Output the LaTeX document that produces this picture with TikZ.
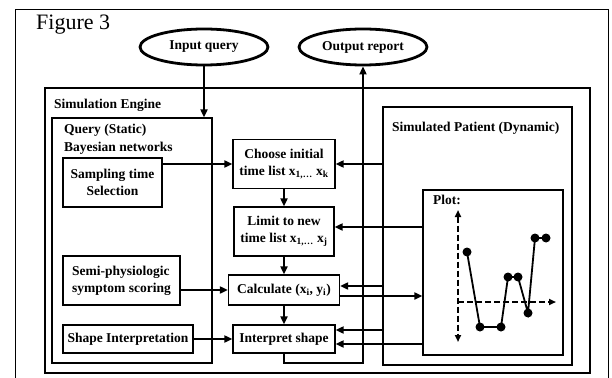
\documentclass[tikz,border=0pt]{standalone}
\usepackage{fontspec}
\setmainfont{Liberation Serif}
\usetikzlibrary{arrows.meta,shapes.geometric}

\begin{document}
\begin{tikzpicture}[x=1pt, y=-1pt,
    box/.style={draw, line width=1.2pt, align=center, inner sep=0pt, font=\bfseries\fontsize{13.5}{17}\selectfont},
    panel/.style={draw, line width=1.2pt, inner sep=0pt},
    oval/.style={ellipse, draw, line width=2.8pt, minimum width=128pt, minimum height=36pt, font=\bfseries\fontsize{13.5}{15}\selectfont},
    tag/.style={font=\bfseries\fontsize{13.5}{18}\selectfont, align=left, anchor=west, inner sep=0pt},
    arr/.style={-{Triangle[length=8pt,width=7pt]}, line width=1.8pt},
    axis/.style={dashed, dash pattern=on 6pt off 3pt, line width=1.8pt}]
    \useasboundingbox (0,0) rectangle (612,377);
    % Frames
    \node[panel, line width=1pt, minimum width=593, minimum height=372] (page) at (311.5,196) {};
    \node[panel, minimum width=545, minimum height=285] (engine) at (317.5,230.5) {};
    \node[panel, minimum width=160, minimum height=245] (query) at (132,240.5) {};
    \node[panel, minimum width=189, minimum height=258] (patient) at (477.5,236) {};
    \node[panel, minimum width=140, minimum height=165] (plot) at (493,272.5) {};
    % Labels
    \node[font=\fontsize{22}{26}\selectfont, anchor=west, inner sep=0pt] (title) at (36,25) {Figure 3};
    \node[tag] (enginelabel) at (54,105) {Simulation Engine};
    \node[tag] (querylabel) at (64,139) {Query (Static)\\Bayesian networks};
    \node[tag] (patientlabel) at (392,128) {Simulated Patient (Dynamic)};
    \node[tag] (plotlabel) at (433,200) {Plot:};
    % Nodes
    \node[oval] (input) at (204,47) {Input query};
    \node[oval] (output) at (363,47) {Output report};
    \node[box, minimum width=99, minimum height=49] (sampling) at (112.5,182.5) {Sampling time\\Selection};
    \node[box, align=left, minimum width=117, minimum height=49] (semi) at (121.5,280.5) {Semi-physiologic\\symptom scoring};
    \node[box, minimum width=130, minimum height=28] (shapeint) at (128,339) {Shape Interpretation};
    \node[box, minimum width=102, minimum height=49] (choose) at (284,164) {Choose initial\\time list x\textsubscript{1,\ldots} x\textsubscript{k}};
    \node[box, minimum width=100, minimum height=49] (limit) at (284,231.5) {Limit to new\\time list x\textsubscript{1,\ldots} x\textsubscript{j}};
    \node[box, minimum width=111, minimum height=30] (calc) at (284,290) {Calculate (x\textsubscript{i}, y\textsubscript{i})};
    \node[box, minimum width=102, minimum height=28] (interp) at (284,339) {Interpret shape};
    \coordinate (turn) at (363,363);
    % Connectors
    \draw[arr] (input) -- (query.north -| input);
    \draw[arr] (sampling.east |- choose) -- (choose.west);
    \draw[arr] (choose) -- (limit);
    \draw[arr] (limit) -- (calc);
    \draw[arr] (calc) -- (interp);
    \draw[arr] (semi.east |- calc) -- (calc.west);
    \draw[arr] (shapeint) -- (interp);
    \draw[arr] (patient.west |- choose) -- (choose.east);
    \draw[arr] (plot.west |- 0,227) -- (limit.east |- 0,227);
    \draw[arr] (patient.west |- 0,286) -- (calc.east |- 0,286);
    \draw[arr] (calc.east |- 0,296) -- (plot.west |- 0,296);
    \draw[arr] (patient.west |- 0,330) -- (interp.east |- 0,330);
    \draw[arr] (plot.west |- 0,344) -- (interp.east |- 0,344);
    \draw[arr] (interp.south) |- (turn) -- (output.south);
    % Plot
    \coordinate (origin) at (458,302);
    \draw[axis, {Triangle[length=7pt,width=6pt]}-{Triangle[length=7pt,width=6pt]}] (458,210) -- (458,342);
    \draw[axis, -{Triangle[length=7pt,width=6pt]}] (origin) -- (556,302);
    \draw[line width=1.8pt] (467,252) -- (480,327) -- (501,327) -- (508,277) -- (518,277) -- (528,313) -- (535,238) -- (546,238);
    \foreach \p in {(467,252), (480,327), (501,327), (508,277), (518,277), (528,313), (535,238), (546,238)}
        \fill \p circle (4.5pt);
\end{tikzpicture}
\end{document}
